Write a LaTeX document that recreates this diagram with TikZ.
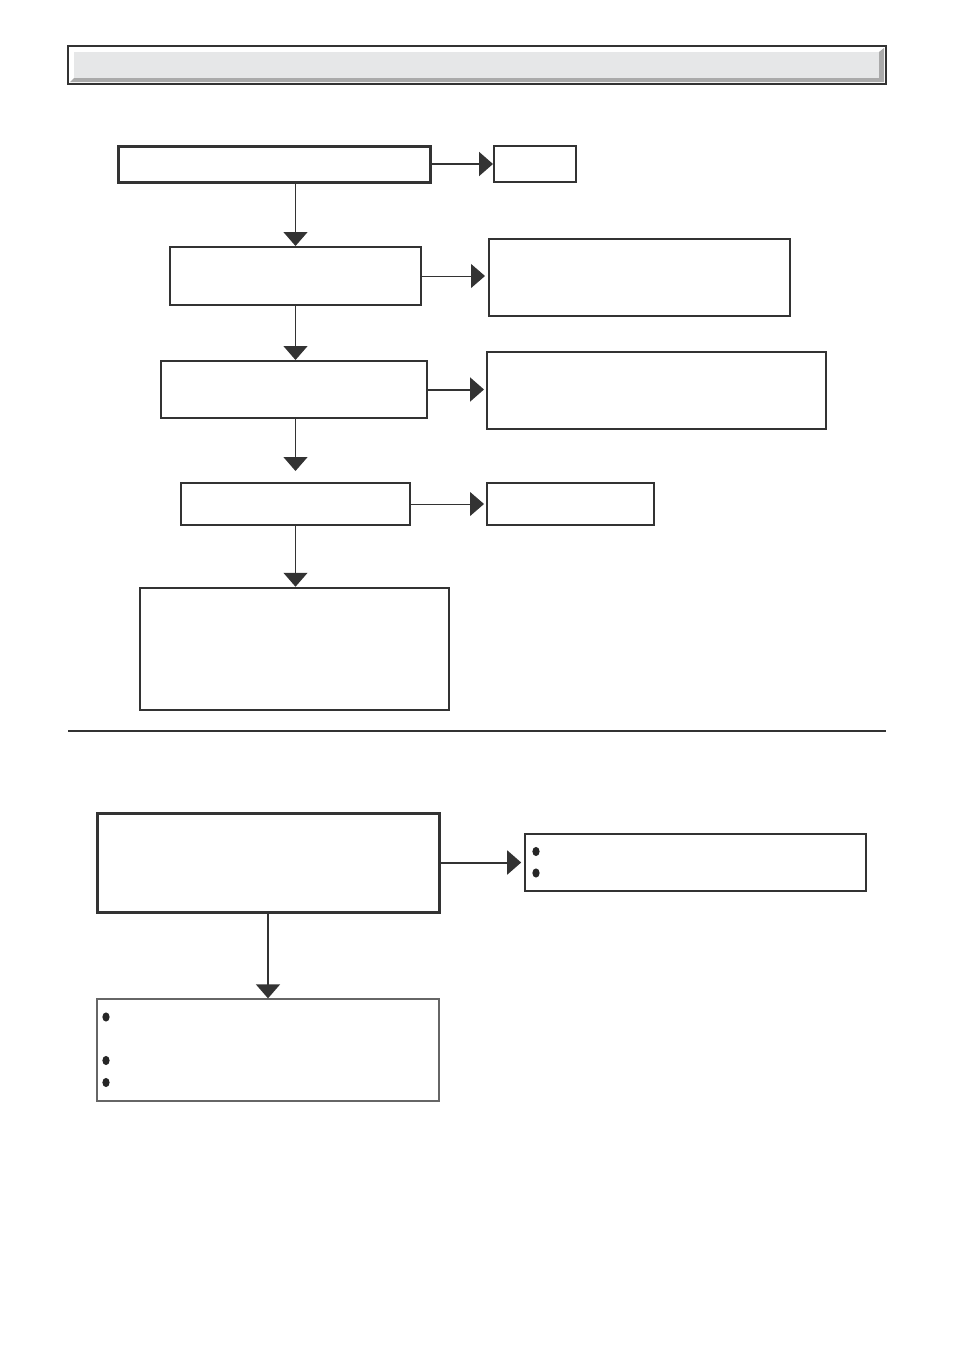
\documentclass[tikz,border=0pt]{standalone}
\usepackage{xcolor}
\usepackage{tikz}
\usetikzlibrary{arrows.meta, positioning, calc}
\definecolor{linegray}{RGB}{51,51,51}
\definecolor{barlight}{RGB}{230,231,232}
\definecolor{barshade}{RGB}{170,170,170}

\begin{document}
\begin{tikzpicture}[x=1pt, y=-1pt,
    box/.style={rectangle, draw=linegray, fill=white, line width=2pt, inner sep=0pt},
    thickbox/.style={box, line width=3pt},
    thinbox/.style={box, line width=1.3pt},
    flow/.style={draw=linegray, line width=1.4pt, -{Triangle[width=24pt, length=14pt]}},
    dot/.style={fill=black!85, draw=none}]

    \useasboundingbox (0,0) rectangle (954,1350);

    % Title bar
    \node[rectangle, draw=linegray, fill=white, line width=1.3pt, minimum width=818pt, minimum height=38pt, inner sep=0pt] (title) at (477,65) {};
    \fill[barshade] (70,82) -- (884,82) -- (884,48) -- (879,52) -- (879,78) -- (74,78) -- cycle;
    \fill[barlight] (74,52) rectangle (879,78);

    % Upper chart
    \node[thickbox, minimum width=312pt, minimum height=36pt] (check) at (274,164) {};
    \node[box, minimum width=82pt, minimum height=36pt] (ok) at (535,164) {};
    \node[box, minimum width=251pt, minimum height=58pt] (stepa) at (295.5,276) {};
    \node[box, minimum width=301pt, minimum height=77pt] (resa) at (639.5,277.5) {};
    \node[box, minimum width=266pt, minimum height=57pt] (stepb) at (294,389.5) {};
    \node[box, minimum width=339pt, minimum height=77pt] (resb) at (656.5,390.5) {};
    \node[box, minimum width=229pt, minimum height=42pt] (stepc) at (295.5,504) {};
    \node[box, minimum width=167pt, minimum height=42pt] (resc) at (570.5,504) {};
    \node[box, line width=2.5pt, minimum width=309pt, minimum height=122pt] (final) at (294.5,649) {};

    \draw[flow, line width=2pt] (check.east) -- (ok.west);
    \draw[flow] (stepa.north |- check.south) -- (stepa.north);
    \draw[flow, line width=1pt, shorten >=3pt] (stepa.east) -- (stepa.east -| resa.west);
    \draw[flow] (stepa.south) -- (stepa.south |- stepb.north);
    \draw[flow, line width=2pt, shorten >=2pt] (stepb.east) -- (stepb.east -| resb.west);
    \draw[flow, shorten >=11pt] (stepb.south -| stepc.north) -- (stepc.north);
    \draw[flow, line width=1pt, shorten >=2pt] (stepc.east) -- (resc.west);
    \draw[flow] (stepc.south) -- (stepc.south |- final.north);

    % Separator
    \coordinate (sepl) at (68,731);
    \coordinate (sepr) at (886,731);
    \draw[linegray, line width=2pt] (sepl) -- (sepr);

    % Lower chart
    \node[thickbox, minimum width=342pt, minimum height=99pt] (cause) at (268,862.5) {};
    \node[box, line width=1.6pt, minimum width=341pt, minimum height=57pt] (hint) at (695.5,862.5) {};
    \node[thinbox, draw=black!60, minimum width=342pt, minimum height=102pt] (todo) at (268,1050) {};

    \draw[flow, line width=2pt, shorten >=3pt] (cause.east) -- (hint.west);
    \draw[flow, line width=1.5pt] (cause.south) -- (todo.north);

    % Bullets
    \foreach \y in {851.5, 873} \fill[dot] (536,\y) ellipse (3.6pt and 4.6pt);
    \foreach \y in {1017, 1060.5, 1082.5} \fill[dot] (106,\y) ellipse (3.6pt and 4.6pt);
\end{tikzpicture}
\end{document}
